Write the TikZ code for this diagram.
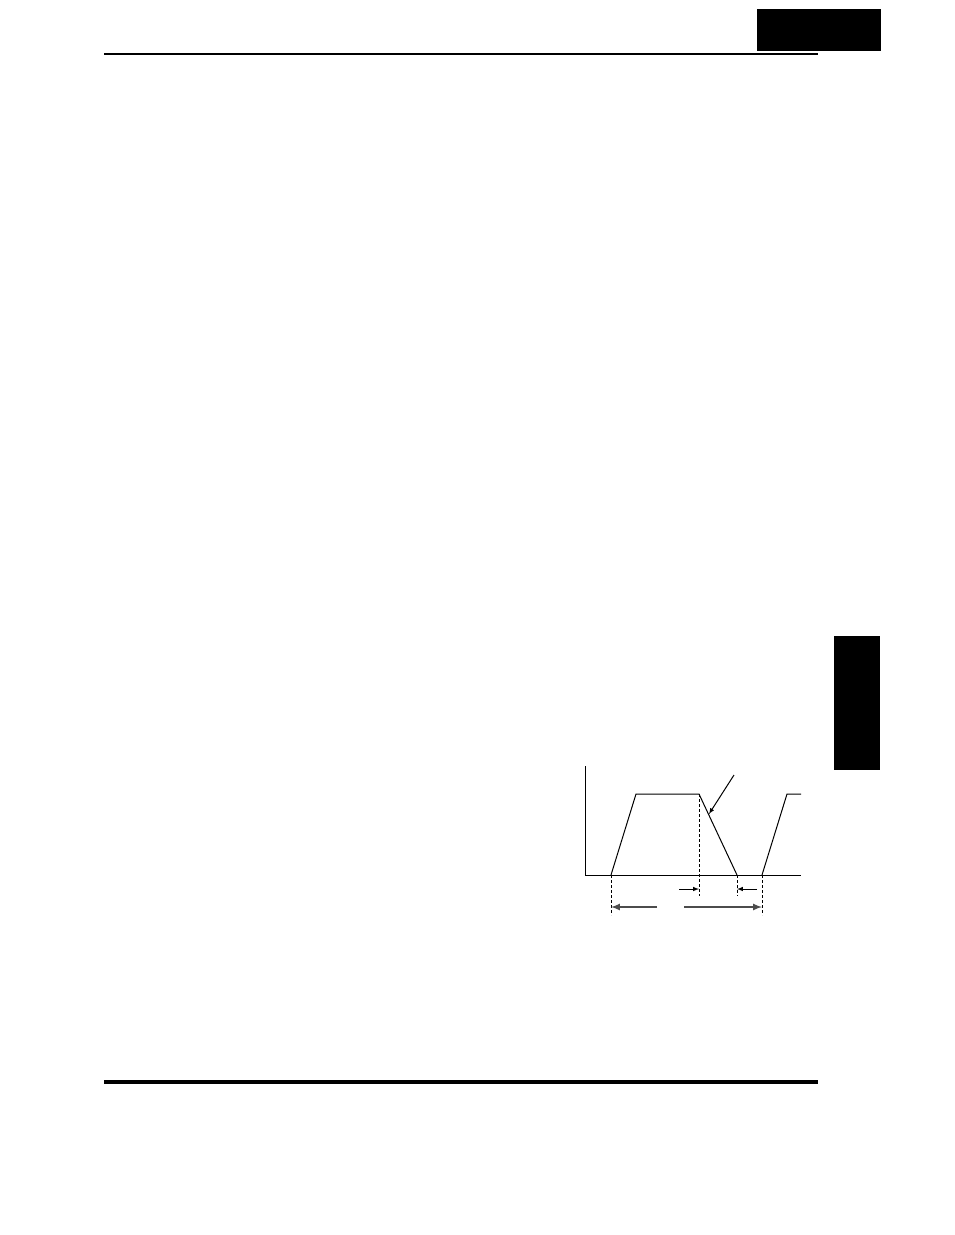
\documentclass[tikz,border=0pt]{standalone}
\usepackage{tikz}
\usetikzlibrary{calc}
\usetikzlibrary{arrows}

\begin{document}
\begin{tikzpicture}[x=1pt,y=-1pt,>=latex]
				\useasboundingbox (0,0) rectangle (954,1235);
				% page frame
				\fill[black] (757,9) rectangle (881,51);
				\draw[line width=2pt] (104,54) -- (818,54);
				\fill[black] (834,636) rectangle (880,770);
				\draw[line width=3.2pt] (104,1082) -- (818,1082);
				
				% axes and curve
				\coordinate (O) at (585,875);
				\coordinate (Ytop) at (585,766);
				\coordinate (Xend) at (801,875);
				\coordinate (A) at (611,875);
				\coordinate (B) at (636,794);
				\coordinate (C) at (699,794);
				\coordinate (D) at (737,875);
				\coordinate (E) at (762,875);
				\coordinate (F) at (787,794);
				\coordinate (G) at (801,794);
				\coordinate (P) at (734,775);
				\coordinate (Q) at (709,814);
				
				\draw[line width=1pt] (Ytop) -- (O) -- (Xend);
				\draw[line width=1pt] (A) -- (B) -- (C) -- (D);
				\draw[line width=1pt] (E) -- (F) -- (G);
				\draw[line width=1pt, ->, >={latex[scale=1.3]}] (P) -- (Q);
				
				\draw[line width=0.8pt, dash pattern=on 3pt off 2pt] (A) -- ++(0,40);
				\draw[line width=0.8pt, dash pattern=on 3pt off 2pt] (C) -- ++(0,102);
				\draw[line width=0.8pt, dash pattern=on 3pt off 2pt] (D) -- ++(0,21);
				\draw[line width=0.8pt, dash pattern=on 3pt off 2pt] (E) -- ++(0,40);
				
				\draw[line width=1pt, ->] (679,889) -- (699,889);
				\draw[line width=1pt, ->] (757,889) -- (737,889);
				\draw[line width=2pt, gray!60!black, ->] (657,907) -- (611,907);
				\draw[line width=2pt, gray!60!black, ->] (684,907) -- (762,907);
			\end{tikzpicture}
\end{document}
